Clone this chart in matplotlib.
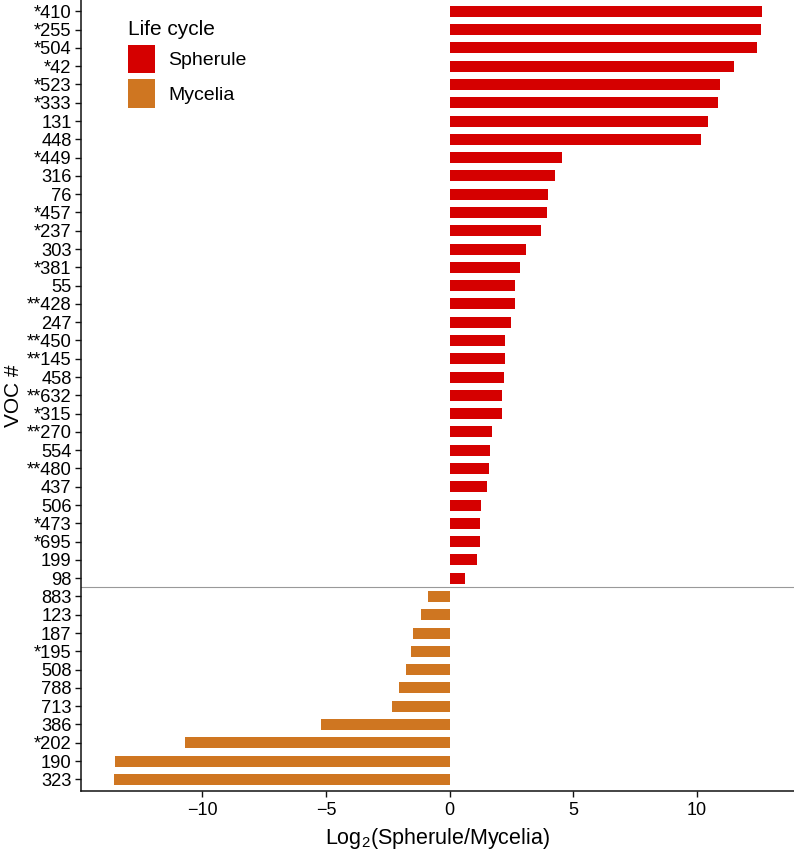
import matplotlib
matplotlib.use("Agg")
import matplotlib.pyplot as plt
from matplotlib.patches import Patch

plt.rcParams['font.family'] = ['Liberation Sans', 'DejaVu Sans']
plt.rcParams['mathtext.default'] = 'regular'

# ---- data ----
labels_sph = ['*410', '*255', '*504', '*42', '*523', '*333', '131', '448', '*449', '316',
              '76', '*457', '*237', '303', '*381', '55', '**428', '247', '**450', '**145',
              '458', '**632', '*315', '**270', '554', '**480', '437', '506', '*473', '*695',
              '199', '98']
values_sph = [12.61, 12.57, 12.42, 11.50, 10.92, 10.84, 10.46, 10.16, 4.53, 4.27,
              3.96, 3.92, 3.70, 3.07, 2.85, 2.66, 2.63, 2.46, 2.24, 2.23,
              2.20, 2.13, 2.13, 1.73, 1.65, 1.59, 1.50, 1.28, 1.23, 1.23,
              1.12, 0.61]
labels_myc = ['883', '123', '187', '*195', '508', '788', '713', '386', '*202', '190', '323']
values_myc = [-0.88, -1.14, -1.49, -1.55, -1.76, -2.03, -2.35, -5.22, -10.70, -13.54, -13.58]

color_sph = '#D50000'
color_myc = '#CF7621'

labels = labels_sph + labels_myc
values = values_sph + values_myc
colors = [color_sph] * len(labels_sph) + [color_myc] * len(labels_myc)
n = len(labels)
ypos = [n - 1 - i for i in range(n)]

fig = plt.figure(figsize=(7.94, 8.5), dpi=100)
ax = fig.add_axes([0.1024, 0.0698, 0.8976, 0.9302])

ax.barh(ypos, values, height=0.6, color=colors, edgecolor='none')

# separator between groups
sep = n - len(labels_sph) - 0.5
ax.axhline(sep, color='#999999', linewidth=0.8)

ax.set_yticks(ypos)
ax.set_yticklabels(labels, fontsize=13.2)
ax.set_ylim(-0.62, n - 1 + 0.62)

dmin, dmax = min(values), max(values)
rng = dmax - dmin
ax.set_xlim(dmin - 0.05 * rng, dmax + 0.05 * rng)
ax.set_xticks([-10, -5, 0, 5, 10])
ax.tick_params(axis='x', labelsize=13, colors='#111111', length=4, width=1, pad=4)
ax.tick_params(axis='y', colors='#111111', length=4, width=1, pad=3)
for lab in ax.get_xticklabels() + ax.get_yticklabels():
    lab.set_color('black')

for s in ['top', 'right']:
    ax.spines[s].set_visible(False)
for s in ['left', 'bottom']:
    ax.spines[s].set_linewidth(1.1)
    ax.spines[s].set_color('#111111')

ax.set_xlabel('Log$_2$(Spherule/Mycelia)', fontsize=15.5, labelpad=5)
ax.set_ylabel('VOC #', fontsize=15, labelpad=3)

handles = [Patch(facecolor=color_sph, edgecolor='none', label='Spherule'),
           Patch(facecolor=color_myc, edgecolor='none', label='Mycelia')]
leg = ax.legend(handles=handles, title='Life cycle', loc='upper left',
                bbox_to_anchor=(0.065, 0.975), frameon=False, fontsize=14,
                title_fontsize=15, handlelength=1.42, handleheight=1.85,
                handletextpad=0.68, labelspacing=0.32, alignment='left',
                borderaxespad=0, borderpad=0)

fig.savefig('out.png', dpi=100)
